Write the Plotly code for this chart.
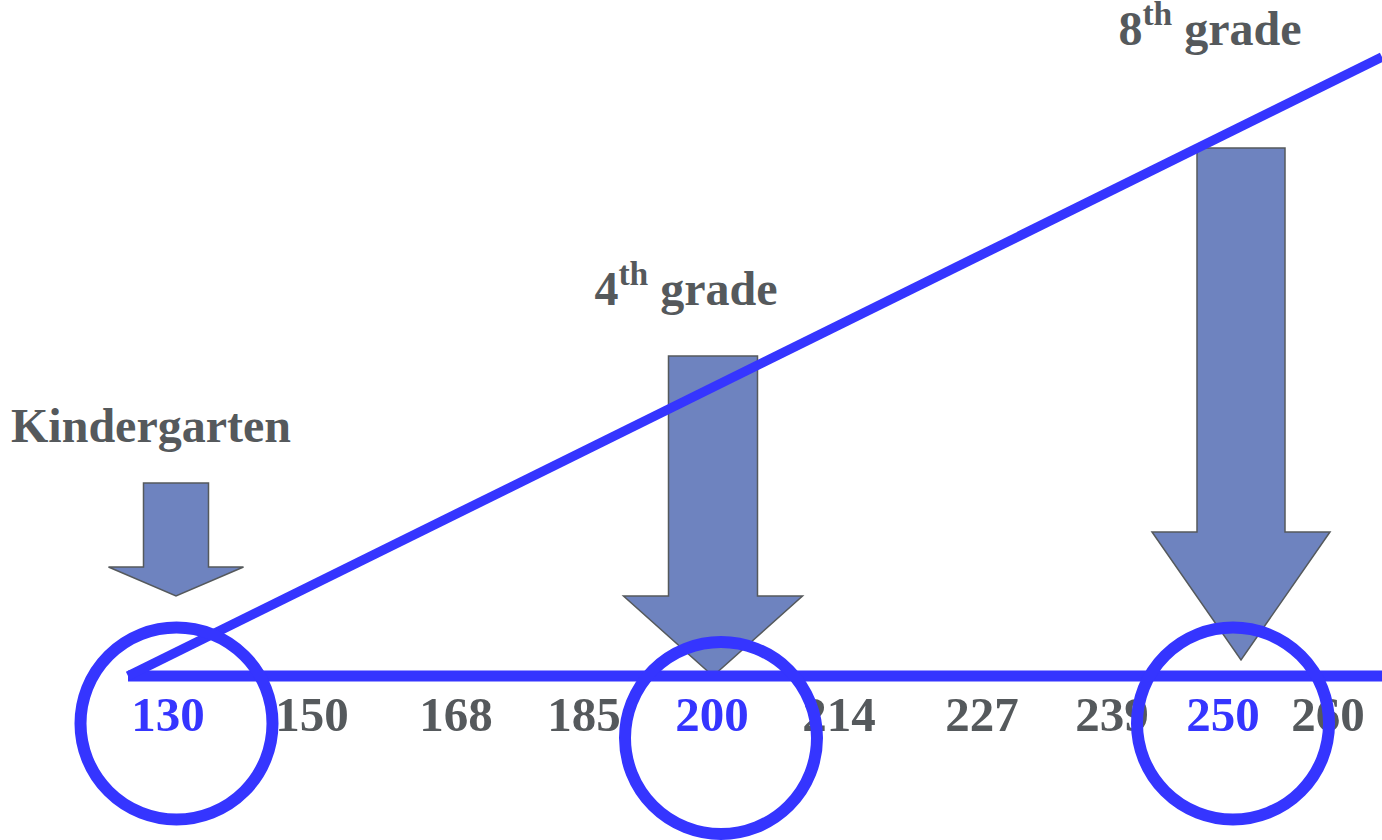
import plotly.graph_objects as go

# ---- data ----
scale_values = [130, 150, 168, 185, 200, 214, 227, 239, 250, 260]
highlighted = [130, 200, 250]
grade_labels = ["Kindergarten", "4<sup>th</sup> grade", "8<sup>th</sup> grade"]
grade_scores = [130, 200, 250]

# ---- layout geometry (pixel-like canvas coordinates) ----
W, H = 1382, 840
label_x = {130: 168, 150: 312, 168: 456, 185: 584, 200: 712,
           214: 839, 227: 982, 239: 1112, 250: 1223, 260: 1328}
label_y = 719
axis_y = 676
axis_x0, axis_x1 = 128, 1382
diag_end_y = 57
circle_cx = {130: 176.5, 200: 721, 250: 1233}
circle_cy = {130: 723.5, 200: 738, 250: 723.5}
circle_r = 96
# arrows: center x, shaft top, shaft half width, head start, head half width, tip
arrow_geom = {
    130: dict(cx=176, top=483, sw=32.5, head=567, hw=67.5, tip=596),
    200: dict(cx=713, top=356, sw=44.5, head=596, hw=89.5, tip=676),
    250: dict(cx=1241, top=148, sw=44, head=532, hw=89, tip=660),
}
grade_text_pos = {130: (151, 430), 200: (686, 293), 250: (1210, 33)}

BLUE = "#3535ff"
GRAY = "#55595c"
FILL = "#6e83bf"
FONT = "Liberation Serif"

fig = go.Figure()

# axis line and growth line
fig.add_trace(go.Scatter(x=[axis_x0, axis_x1], y=[axis_y, axis_y], mode="lines",
                         line=dict(color=BLUE, width=11), hoverinfo="skip"))
fig.add_trace(go.Scatter(x=[axis_x0, axis_x1], y=[axis_y, diag_end_y], mode="lines",
                         line=dict(color=BLUE, width=9.5), hoverinfo="skip"))

# scale labels
fig.add_trace(go.Scatter(
    x=[label_x[v] for v in scale_values],
    y=[label_y] * len(scale_values),
    mode="text",
    text=[str(v) for v in scale_values],
    textposition="middle center",
    textfont=dict(family=FONT, size=49, weight="bold",
                  color=[BLUE if v in highlighted else GRAY for v in scale_values]),
    hoverinfo="skip"))

# grade labels
fig.add_trace(go.Scatter(
    x=[grade_text_pos[s][0] for s in grade_scores],
    y=[grade_text_pos[s][1] for s in grade_scores],
    mode="text",
    text=grade_labels,
    textposition="middle center",
    textfont=dict(family=FONT, size=48, weight="bold", color=GRAY),
    hoverinfo="skip"))

shapes = []
for s in grade_scores:
    g = arrow_geom[s]
    cx = g["cx"]
    path = (f"M{cx - g['sw']},{g['top']} L{cx + g['sw']},{g['top']} "
            f"L{cx + g['sw']},{g['head']} L{cx + g['hw']},{g['head']} "
            f"L{cx},{g['tip']} L{cx - g['hw']},{g['head']} "
            f"L{cx - g['sw']},{g['head']} Z")
    shapes.append(dict(type="path", path=path, xref="x", yref="y", layer="below",
                       fillcolor=FILL, line=dict(color=GRAY, width=1.5)))
for v in highlighted:
    shapes.append(dict(type="circle", xref="x", yref="y", layer="above",
                       x0=circle_cx[v] - circle_r, x1=circle_cx[v] + circle_r,
                       y0=circle_cy[v] - circle_r, y1=circle_cy[v] + circle_r,
                       line=dict(color=BLUE, width=12), fillcolor="rgba(0,0,0,0)"))

fig.update_layout(
    width=W, height=H, margin=dict(l=0, r=0, t=0, b=0),
    paper_bgcolor="white", plot_bgcolor="white", showlegend=False,
    xaxis=dict(range=[0, W], visible=False, fixedrange=True),
    yaxis=dict(range=[H, 0], visible=False, fixedrange=True),
    shapes=shapes,
)

fig.write_html("out.html", config={"displayModeBar": False},
               post_script="document.body.style.margin='0';document.body.style.padding='0';"
                           "document.body.style.overflow='hidden';")
